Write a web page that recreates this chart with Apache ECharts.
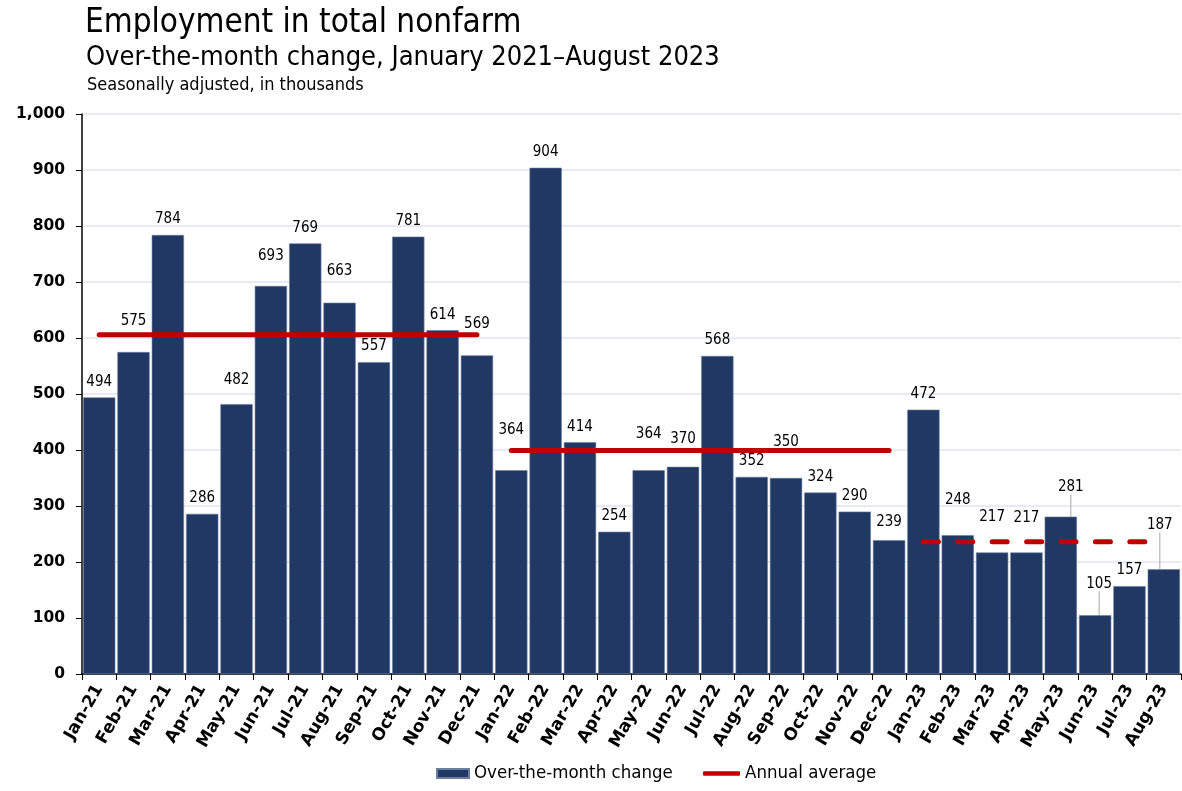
<!DOCTYPE html>
<html>
<head>
<meta charset="utf-8">
<script src="https://cdn.jsdelivr.net/npm/echarts@6/dist/echarts.min.js"></script>
<style>
  html, body { margin: 0; padding: 0; background: #fff; }
  #chart { width: 1182px; height: 791px; }
</style>
</head>
<body>
<div id="chart"></div>
<script>
// ---- Data ----
const categories = [
  'Jan-21','Feb-21','Mar-21','Apr-21','May-21','Jun-21','Jul-21','Aug-21','Sep-21','Oct-21','Nov-21','Dec-21',
  'Jan-22','Feb-22','Mar-22','Apr-22','May-22','Jun-22','Jul-22','Aug-22','Sep-22','Oct-22','Nov-22','Dec-22',
  'Jan-23','Feb-23','Mar-23','Apr-23','May-23','Jun-23','Jul-23','Aug-23'
];
const changeValues = [
  494, 575, 784, 286, 482, 693, 769, 663, 557, 781, 614, 569,
  364, 904, 414, 254, 364, 370, 568, 352, 350, 324, 290, 239,
  472, 248, 217, 217, 281, 105, 157, 187
];
const averageYears = ['21', '22', '23'];
const annualAverages = [606, 399, 236];
const yTickLabels = ['0','100','200','300','400','500','600','700','800','900','1,000'];

// ---- Label nudges (style only: pixel offsets from default label spot) ----
const labelNudges = [
  [0,0],[0,-15],[0,0],[0,0],[0,-8],[0,-14],[0,0],[0,-16],[0,0],[0,0],[0,0],[0,-16],
  [0,-25],[0,0],[0,0],[0,0],[0,-21],[0,-12],[0,0],[0,0],[0,-20],[0,0],[0,0],[0,-3],
  [0,0],[0,-20],[0,-20],[0,-19],[10,-14],[4,-16],[0,0],[-4,-29]
];
const leaderLabels = ['May-23', 'Jun-23', 'Aug-23'];

const FONT = '"DejaVu Sans Condensed", "DejaVu Sans", sans-serif';
const FONT_WIDE = '"DejaVu Sans", sans-serif';
const NAVY = '#213864';
const RED = '#c00000';

const barData = changeValues.map((v, i) => {
  const item = { value: v };
  if (leaderLabels.indexOf(categories[i]) >= 0) {
    item.labelLine = { show: true, lineStyle: { color: '#a6a6a6', width: 1 } };
  }
  return item;
});

const lineSeries = averageYears.map((yr, k) => ({
  name: 'Annual average',
  type: 'line',
  z: 5,
  symbol: 'none',
  showSymbol: false,
  silent: true,
  connectNulls: false,
  lineStyle: {
    color: RED,
    width: 5,
    cap: 'round',
    type: k === 2 ? [15, 19.4] : 'solid'
  },
  itemStyle: { color: RED },
  data: categories.map(c => (c.slice(-2) === yr ? annualAverages[k] : null))
}));

const chart = echarts.init(document.getElementById('chart'), null, { renderer: 'canvas' });
const legendText = { fontFamily: FONT, fontSize: 18.5, color: '#000' };
const option = {
  animation: false,
  backgroundColor: '#fff',
  textStyle: { fontFamily: FONT },
  title: [
    { text: 'Employment in total nonfarm', left: 80, top: 2,
      textStyle: { fontFamily: FONT, fontSize: 33, fontWeight: 'normal', color: '#000' } },
    { text: 'Over-the-month change, January 2021\u2013August 2023', left: 81, top: 39,
      textStyle: { fontFamily: FONT, fontSize: 27, fontWeight: 'normal', color: '#000' } },
    { text: 'Seasonally adjusted, in thousands', left: 82, top: 71,
      textStyle: { fontFamily: FONT, fontSize: 18, fontWeight: 'normal', color: '#000' } }
  ],
  grid: { left: 82, right: 1, top: 114, bottom: 117, containLabel: false, outerBoundsMode: 'none' },
  legend: [
    {
      left: 431, bottom: 3,
      itemWidth: 32, itemHeight: 9,
      textStyle: legendText,
      data: [{ name: 'Over-the-month change', icon: 'rect' }]
    },
    {
      left: 698, bottom: 3,
      itemWidth: 37, itemHeight: 4.5,
      textStyle: legendText,
      data: [{ name: 'Annual average', icon: 'roundRect' }]
    }
  ],
  xAxis: {
    type: 'category',
    data: categories,
    axisLine: { lineStyle: { color: '#000', width: 1.5 } },
    axisTick: { show: true, length: 6, lineStyle: { color: '#000', width: 1 } },
    axisLabel: { interval: 0, rotate: 60, margin: 12, fontFamily: FONT_WIDE, fontSize: 17, fontWeight: 'bold', color: '#000' }
  },
  yAxis: {
    type: 'value',
    min: 0, max: 1000, interval: 100,
    axisLine: { show: true, lineStyle: { color: '#000', width: 1.5 } },
    axisTick: { show: true, length: 6, lineStyle: { color: '#000', width: 1 } },
    splitLine: { show: true, lineStyle: { color: '#dfe5f3', width: 1.5 } },
    axisLabel: {
      margin: 17, fontFamily: FONT_WIDE, fontSize: 15.5, fontWeight: 'bold', color: '#000',
      formatter: (v) => yTickLabels[Math.round(v / 100)]
    }
  },
  series: [
    {
      name: 'Over-the-month change',
      type: 'bar',
      barCategoryGap: '6%',
      itemStyle: { color: NAVY, borderColor: '#6b7da0', borderWidth: 0.6 },
      label: {
        show: true, position: 'top', distance: 8,
        fontFamily: FONT, fontSize: 15, color: '#000'
      },
      labelLine: { show: false, lineStyle: { color: '#a6a6a6', width: 1 } },
      labelLayout: (p) => {
        const n = labelNudges[p.dataIndex] || [0, 0];
        return { dx: n[0], dy: n[1] };
      },
      data: barData
    }
  ].concat(lineSeries)
};
chart.setOption(option);
</script>
</body>
</html>
